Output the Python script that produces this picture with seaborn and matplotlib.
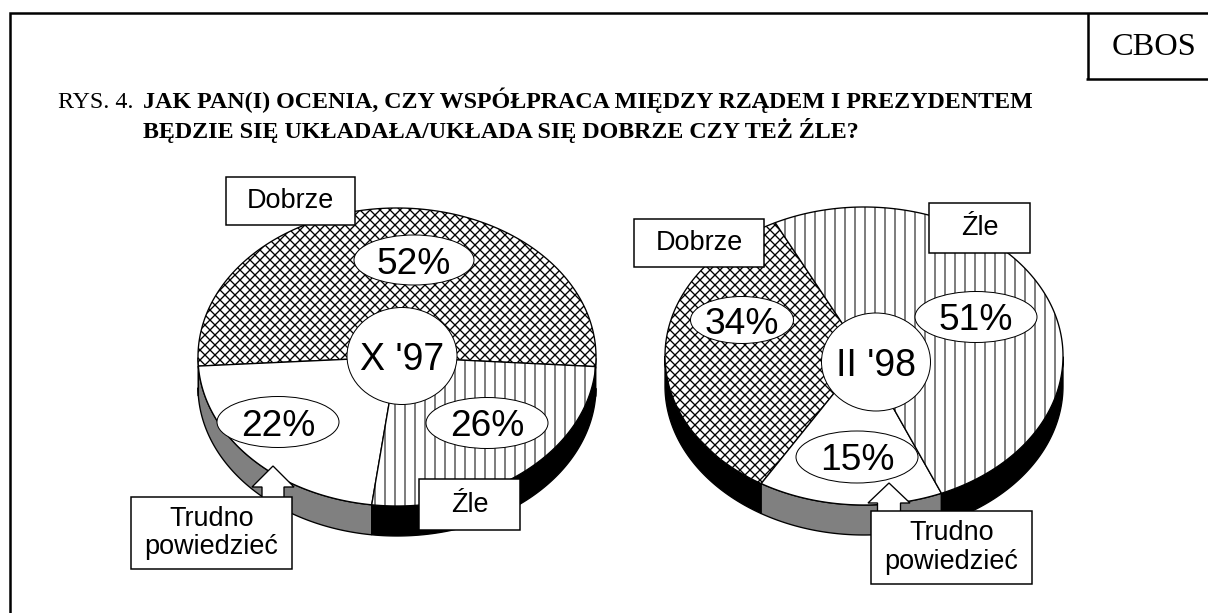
#!/usr/bin/env python3
"""CBOS figure: two tilted pies on government/president cooperation."""

import matplotlib

matplotlib.use("Agg")
import matplotlib.pyplot as plt
from matplotlib.patches import Ellipse, Polygon, Rectangle
import numpy as np
import seaborn as sns

segments = ["Dobrze", "Trudno powiedzieć", "Źle"]
shares_97 = [52, 22, 26]
shares_98 = [34, 15, 51]
period_97 = "X '97"
period_98 = "II '98"
title_prefix = "RYS. 4."
title_line1 = "JAK PAN(I) OCENIA, CZY WSPÓŁPRACA MIĘDZY RZĄDEM I PREZYDENTEM"
title_line2 = "BĘDZIE SIĘ UKŁADAŁA/UKŁADA SIĘ DOBRZE CZY TEŻ ŹLE?"
source_label = "CBOS"

W, H, DPI = 1208, 613, 120
SANS = "Liberation Sans"
SERIF = "Liberation Serif"
DEPTH = 30
HATCHES = {"Dobrze": "xxxx", "Trudno powiedzieć": "", "Źle": "||"}
HATCH_LW = {"Dobrze": 0.8, "Trudno powiedzieć": 0.6, "Źle": 0.6}

sns.set_theme(style="white")
plt.rcParams["text.color"] = "black"
grays = sns.color_palette(["#000000", "#808080", "#000000"])
SIDE_COLORS = dict(zip(segments, grays))


def draw_pie(ax, shares, cx, cy, rx, ry, start):
    angles = np.deg2rad(start + np.cumsum([0] + list(shares)) * 3.6)
    for i, seg in enumerate(segments):
        ts = np.linspace(angles[i], angles[i + 1], 240)
        xs = cx + rx * np.cos(ts)
        ys = cy - ry * np.sin(ts)
        # side band, only the part of the rim facing the viewer
        front = np.sin(ts) <= 0
        if front.any():
            fx, fy = xs[front], ys[front]
            band = np.r_[np.c_[fx, fy], np.c_[fx, fy + DEPTH][::-1]]
            ax.add_patch(Polygon(band, closed=True, fc=SIDE_COLORS[seg], ec="black", lw=0.8, zorder=2))
        outline = np.r_[[[cx, cy]], np.c_[xs, ys]]
        with plt.rc_context({"hatch.linewidth": HATCH_LW[seg]}):
            ax.add_patch(Polygon(outline, closed=True, fc="white", ec="black", lw=0.8,
                                 hatch=HATCHES[seg], zorder=3))


def bubble(ax, x, y, w, h, text, size):
    ax.add_patch(Ellipse((x, y), w, h, fc="white", ec="black", lw=0.6, zorder=4))
    ax.text(x, y, text, family=SANS, fontsize=size, ha="center", va="center_baseline", zorder=5)


def box(ax, x0, y0, x1, y1, text):
    ax.add_patch(Rectangle((x0, y0), x1 - x0, y1 - y0, fc="white", ec="black", lw=0.9, zorder=7))
    ax.text((x0 + x1) / 2, (y0 + y1) / 2, text, family=SANS, fontsize=16.2, ha="center", va="center",
            linespacing=1.15, zorder=8)


def up_arrow(ax, tip_x, tip_y, head_y, head_half, stem_half, base_y):
    pts = [(tip_x, tip_y), (tip_x + head_half, head_y), (tip_x + stem_half, head_y), (tip_x + stem_half, base_y),
           (tip_x - stem_half, base_y), (tip_x - stem_half, head_y), (tip_x - head_half, head_y)]
    ax.add_patch(Polygon(pts, closed=True, fc="white", ec="black", lw=0.8, zorder=6))


fig = plt.figure(figsize=(W / DPI, H / DPI), dpi=DPI, facecolor="white")
ax = fig.add_axes([0, 0, 1, 1])
ax.set_xlim(0, W)
ax.set_ylim(H, 0)
ax.axis("off")

# frame and source tag, open at the bottom and on the right
ax.plot([10, 10, W], [H, 13, 13], color="black", lw=1.5, solid_capstyle="butt", solid_joinstyle="miter")
ax.plot([1088, 1088], [13, 79], color="black", lw=1.5, solid_capstyle="butt")
ax.plot([1086, W], [79, 79], color="black", lw=1.5, solid_capstyle="butt")
ax.text(1112, 55, source_label, family=SERIF, fontsize=19.4, ha="left", va="baseline")

ax.text(58, 108, title_prefix, family=SERIF, fontsize=14.4, va="baseline")
ax.text(143, 108, title_line1, family=SERIF, fontsize=14.4, weight="bold", va="baseline")
ax.text(143, 138, title_line2, family=SERIF, fontsize=14.4, weight="bold", va="baseline")

draw_pie(ax, shares_97, 397, 357, 199, 149, -3.7)
draw_pie(ax, shares_98, 864, 356, 199, 149, 116.5)

pct = [f"{v}%" for v in shares_97]
bubble(ax, 414, 260, 120, 50, pct[0], 22.3)
bubble(ax, 278, 422, 122, 51, pct[1], 22.3)
bubble(ax, 487, 423, 122, 51, pct[2], 22.3)
bubble(ax, 402, 356, 110, 97, period_97, 22.5)

pct = [f"{v}%" for v in shares_98]
bubble(ax, 742, 320, 103, 47, pct[0], 22.3)
bubble(ax, 857, 457, 122, 52, pct[1], 22.3)
bubble(ax, 976, 317, 122, 51, pct[2], 22.3)
bubble(ax, 876, 362, 109, 98, period_98, 22.5)

up_arrow(ax, 273, 466, 487, 21, 11, 498)
up_arrow(ax, 889, 483, 503, 21, 11.5, 512)

box(ax, 226, 177, 355, 225, segments[0])
box(ax, 131, 497, 292, 569, "Trudno\npowiedzieć")
box(ax, 419, 479, 520, 530, segments[2])
box(ax, 634, 219, 764, 267, segments[0])
box(ax, 871, 511, 1032, 584, "Trudno\npowiedzieć")
box(ax, 929, 203, 1030, 253, segments[2])

fig.savefig("out.png", dpi=DPI, facecolor="white")
